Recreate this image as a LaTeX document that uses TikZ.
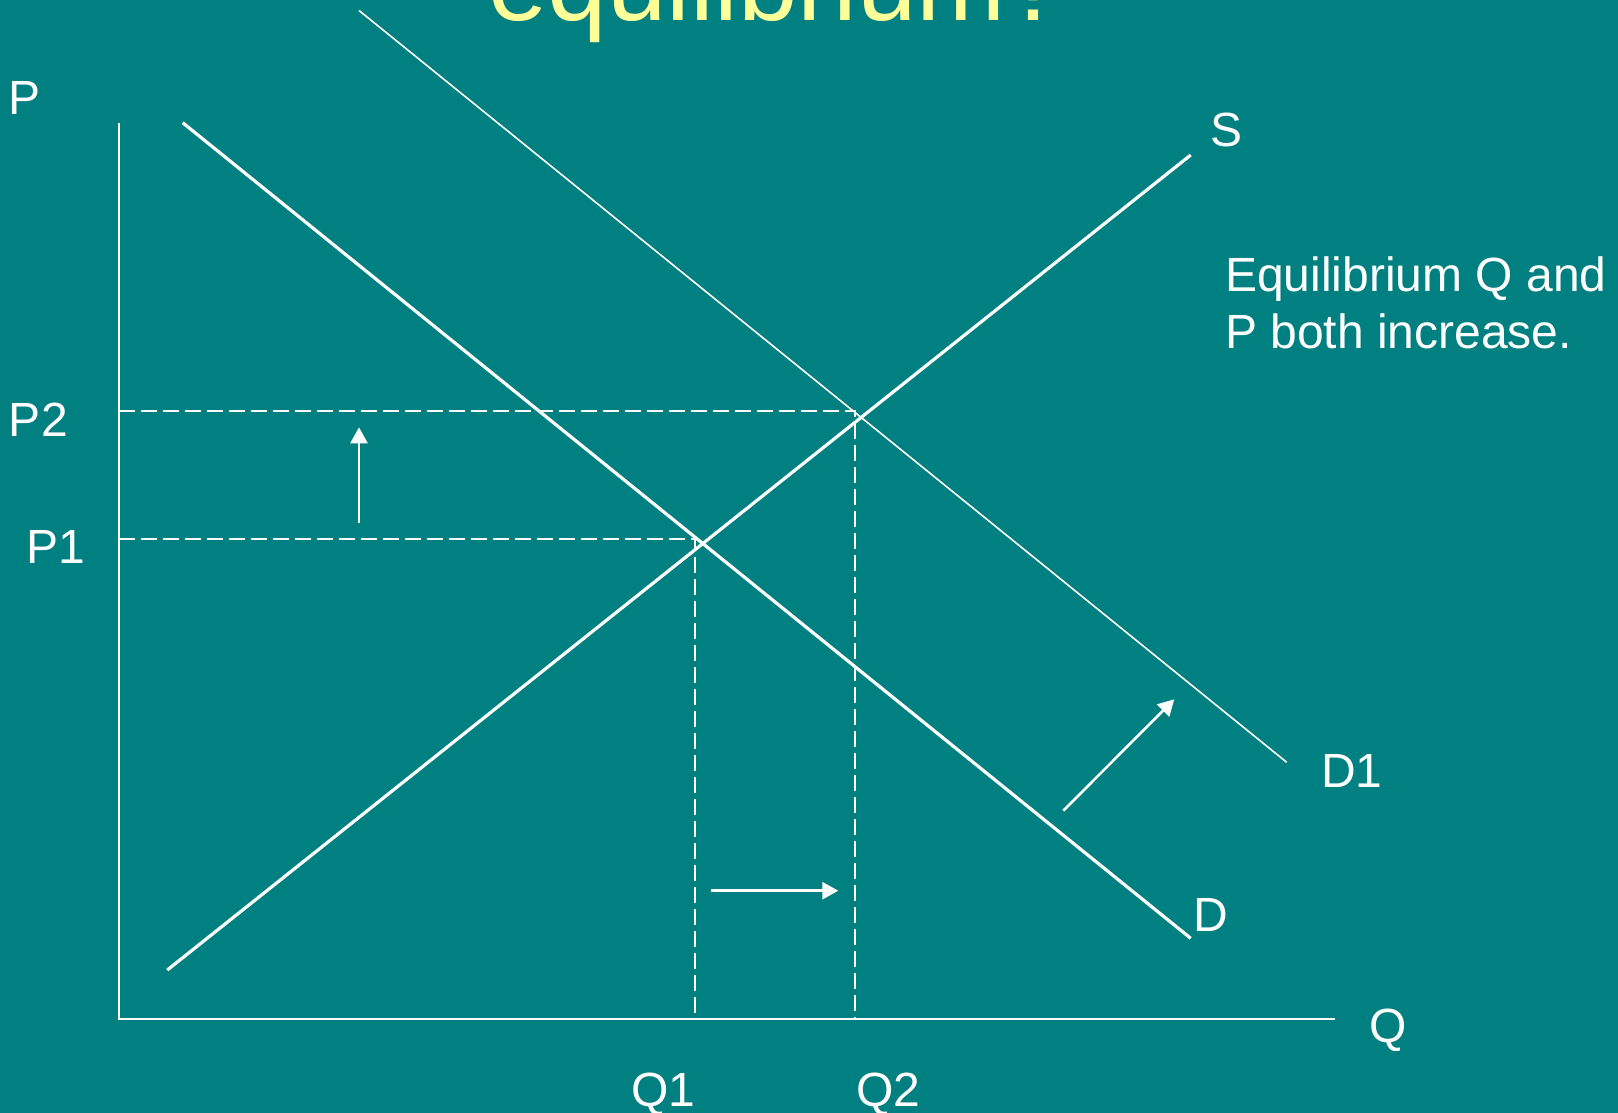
\documentclass[tikz,border=0pt]{standalone}
\usepackage{fontspec}
\setmainfont{Liberation Sans}
\usetikzlibrary{arrows.meta}
\definecolor{bgteal}{HTML}{008080}
\definecolor{titleyellow}{HTML}{FFFF99}
\tikzset{
  lbl/.style={anchor=base west, inner sep=0pt, outer sep=0pt, text=white, font=\fontsize{24}{28}\selectfont},
  curve/.style={draw=white, line width=1.6pt},
  thincurve/.style={draw=white, line width=0.8pt},
  axisline/.style={draw=white, line width=1pt},
  guide/.style={draw=white, line width=1pt, dash pattern=on 8pt off 3pt},
  shiftarrow/.style={draw=white, line width=1.3pt, -{Triangle[length=8pt,width=8.5pt]}},
}
\begin{document}
\begin{tikzpicture}[x=0.5pt, y=-0.5pt]
\clip (0,0) rectangle (1618,1113);
\fill[bgteal] (0,0) rectangle (1618,1113);
% title (cut off at top)
\node[anchor=base west, inner sep=0pt, text=titleyellow, font=\fontsize{53.5}{60}\selectfont] (title) at (488,21) {equilibrium?};
% coordinates
\coordinate (ytop) at (119,122.7);
\coordinate (origin) at (119,1019);
\coordinate (xend) at (1335,1019);
\coordinate (s0) at (167.3,970);
\coordinate (s1) at (1190.7,155);
\coordinate (d0) at (182.7,122.7);
\coordinate (d1) at (1190.7,938.3);
\coordinate (dd0) at (359,10.5);
\coordinate (dd1) at (1286.7,762.3);
\coordinate (p2a) at (119,411);
\coordinate (p2b) at (855,411);
\coordinate (p1a) at (119,539);
\coordinate (p1b) at (695,539);
\coordinate (q1b) at (695,1019);
\coordinate (q2b) at (855,1019);
\coordinate (ua) at (359,522.7);
\coordinate (ub) at (359,427.3);
\coordinate (ra) at (711,890.7);
\coordinate (rb) at (838.3,890.7);
\coordinate (ga) at (1063.3,810.7);
\coordinate (gb) at (1174.3,699.3);
% guides
\draw[guide] (p2a) -- (p2b) -- (q2b);
\draw[guide] (p1a) -- (p1b) -- (q1b);
% axes
\draw[axisline] (ytop) -- (origin) -- (xend);
% curves
\draw[thincurve] (dd0) -- (dd1);
\draw[curve] (s0) -- (s1);
\draw[curve] (d0) -- (d1);
% arrows
\draw[shiftarrow] (ua) -- (ub);
\draw[shiftarrow] (ra) -- (rb);
\draw[shiftarrow] (ga) -- (gb);
% labels
\node[lbl] (lP) at (9,115) {P};
\node[lbl] (lP2) at (9,436) {P2};
\node[lbl] (lP1) at (26,563) {P1};
\node[lbl] (lS) at (1210,146.7) {S};
\node[lbl] (lD1) at (1321,787.7) {D1};
\node[lbl] (lD) at (1193,931.7) {D};
\node[lbl] (lQ) at (1369,1042.7) {Q};
\node[lbl] (lQ1) at (631,1106) {Q1};
\node[lbl] (lQ2) at (856,1106) {Q2};
\node[lbl] (note1) at (1225,291.7) {Equilibrium Q and};
\node[lbl] (note2) at (1225,348.3) {P both increase.};
\end{tikzpicture}
\end{document}
